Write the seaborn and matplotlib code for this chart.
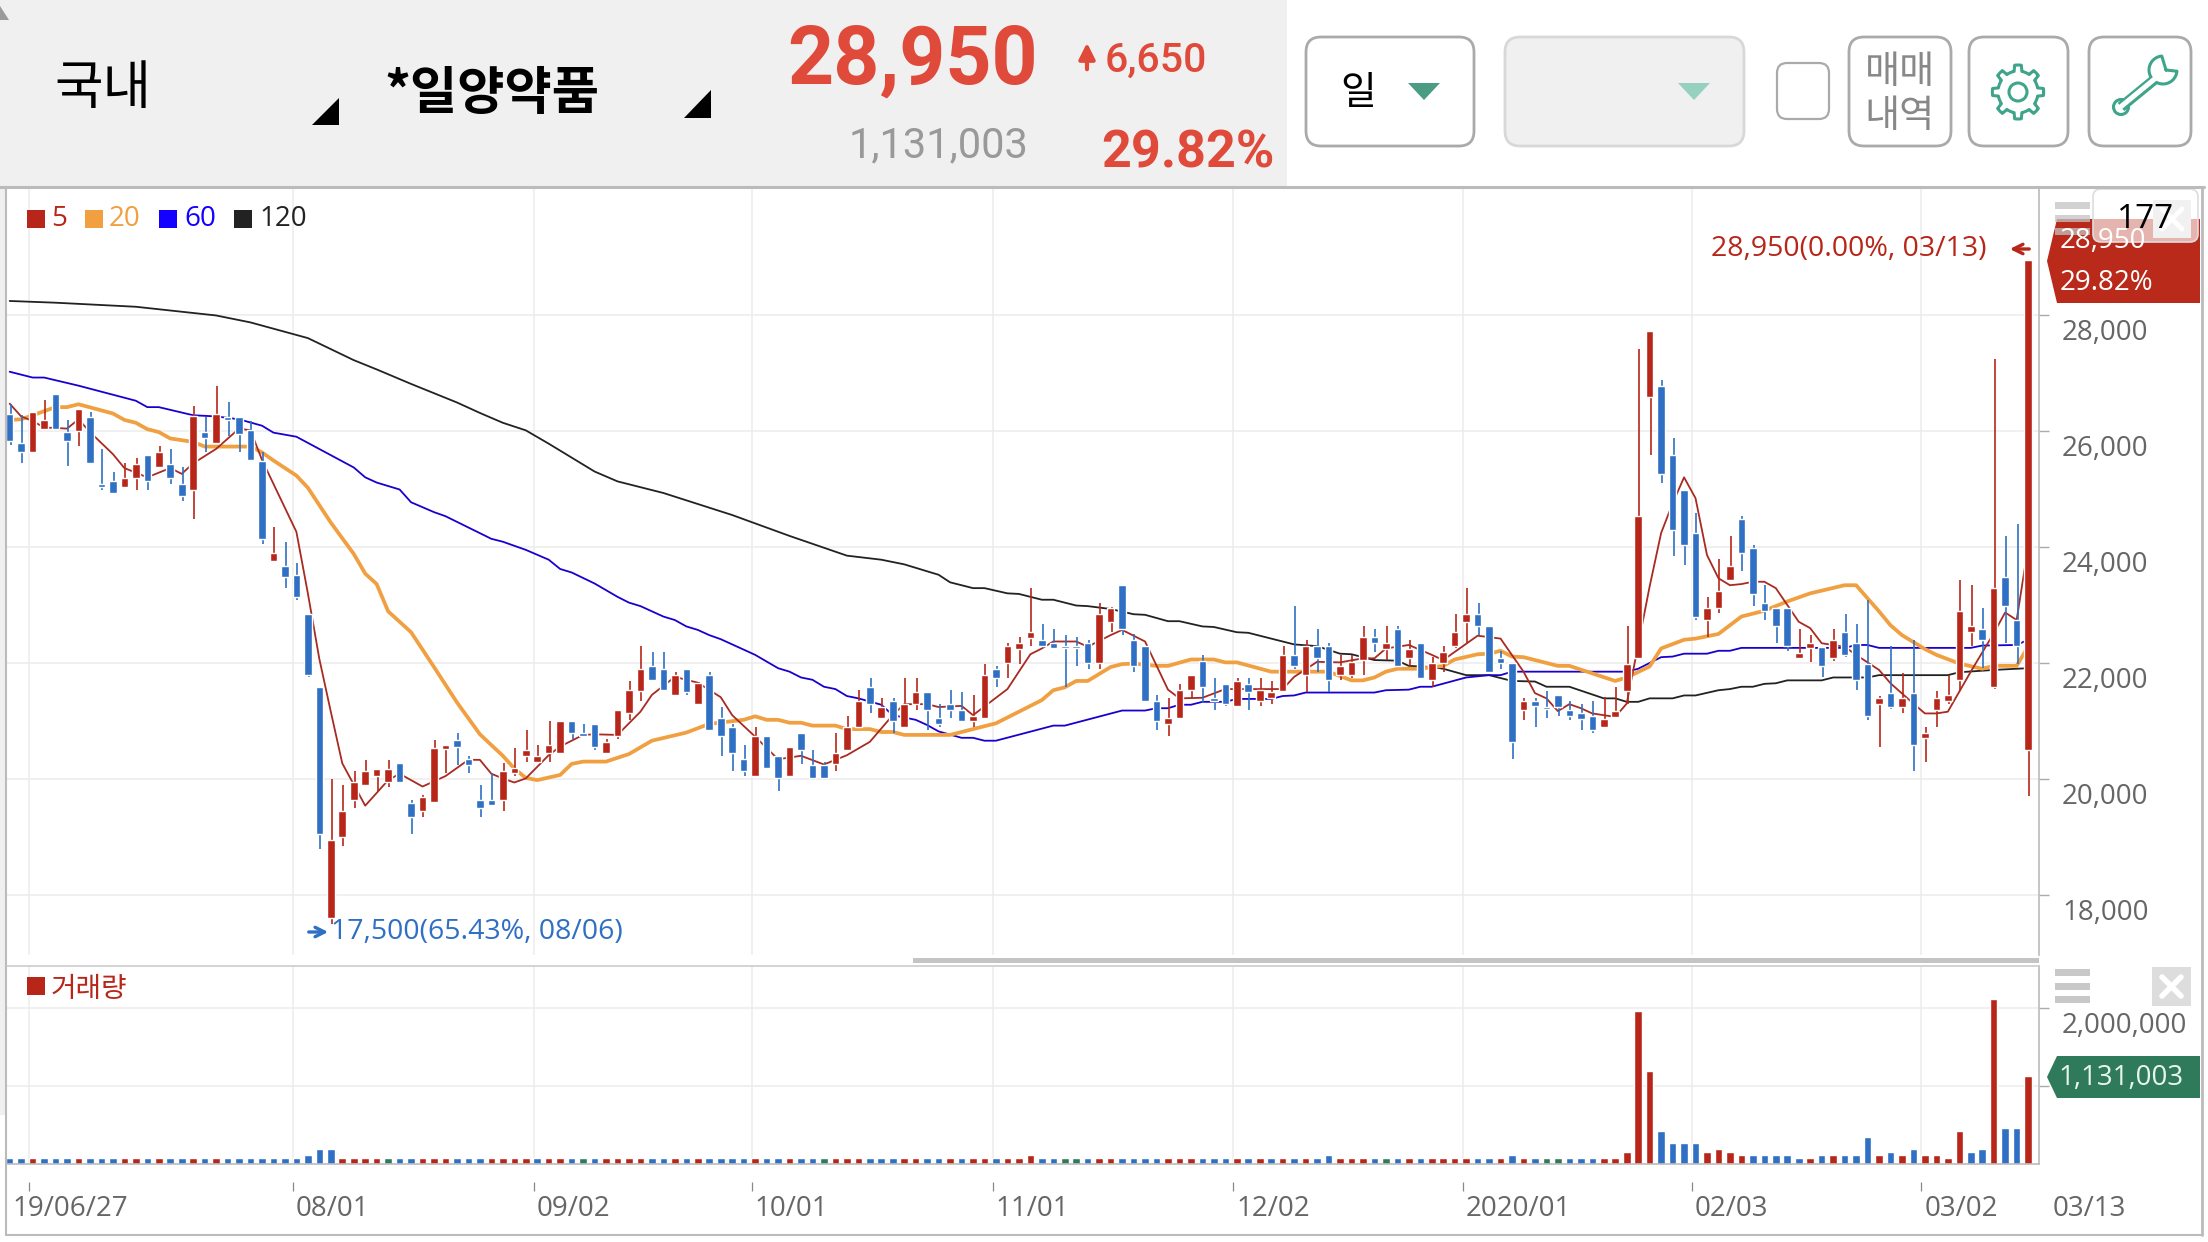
import numpy as np
import pandas as pd
import seaborn as sns
import matplotlib.pyplot as plt
from matplotlib.patches import Polygon, Rectangle, FancyBboxPatch, Circle

# candles, one value per trading day, left to right
candle_color = ("bbrrbbrbbb" "rrbrbbrbrb" "bbbrbbbbrr" "rrrrbbrrrb" "bbbrrrrrrb" "bbrrrrbbrb"
                "rbbbbrbbrb" "bbrrrbrbrr" "bbbbrrbrrr" "bbbbbrrbbb" "brrrbbbrbr" "rrbrbbrrrb"
                "rbrbrrrrbb" "bbrbbbbbbr" "rrrrbbbbrr" "rbbbbbrrbr" "bbbrbrbrrr" "rrbrbbr")
high = [26470, 26270, 26320, 26540, 26640, 26190, 26380, 26320, 25690, 25290,
        25440, 25530, 25580, 25740, 25690, 25370, 26430, 26240, 26780, 26490,
        26240, 26170, 25630, 24340, 24090, 23730, 22840, 21580, 20000, 19890,
        20130, 20330, 20180, 20330, 20280, 19630, 19730, 20680, 20580, 20790,
        20400, 19890, 20110, 20270, 20540, 20850, 20590, 21000, 21000, 21000,
        20950, 20950, 20690, 21190, 21690, 22290, 22190, 22190, 21840, 21900,
        21680, 21840, 21240, 20950, 20590, 20900, 20740, 20400, 20550, 20790,
        20500, 20290, 20790, 21090, 21540, 21740, 21400, 21400, 21740, 21740,
        21500, 21290, 21540, 21500, 21450, 21990, 21950, 22340, 22440, 23290,
        22680, 22590, 22480, 22440, 22400, 23030, 22970, 23350, 22500, 22290,
        21450, 21390, 21640, 21790, 22140, 21740, 21640, 21740, 21740, 21740,
        21690, 22290, 22980, 22400, 22580, 22340, 22140, 22140, 22640, 22580,
        22640, 22640, 22400, 22340, 22100, 22290, 22850, 23290, 23030, 22640,
        22200, 22000, 21390, 21390, 21510, 21450, 21340, 21290, 21340, 21410,
        21580, 22640, 27420, 27720, 26880, 25870, 24980, 24580, 23130, 23790,
        24190, 24530, 24030, 23340, 22940, 22940, 22580, 22480, 22280, 22580,
        22840, 22680, 23090, 21430, 22290, 21830, 22400, 20890, 21520, 21790,
        23430, 23340, 22940, 27240, 24190, 24400, 28950]
body_top = [26290, 25790, 26320, 26190, 26640, 25980, 26380, 26240, 25090, 25140,
            25190, 25430, 25580, 25640, 25430, 25090, 26250, 25980, 26290, 26240,
            26240, 26020, 25480, 23890, 23680, 23520, 22840, 21580, 18940, 19450,
            19940, 20130, 20180, 20180, 20280, 19590, 19690, 20540, 20580, 20680,
            20350, 19630, 19630, 20130, 20190, 20500, 20400, 20590, 21000, 21000,
            20790, 20950, 20640, 21190, 21540, 21900, 21950, 21900, 21790, 21900,
            21650, 21790, 21050, 20900, 20340, 20740, 20740, 20400, 20550, 20790,
            20240, 20240, 20450, 20900, 21350, 21590, 21240, 21350, 21290, 21500,
            21500, 21050, 21290, 21190, 21090, 21790, 21900, 22290, 22340, 22540,
            22400, 22350, 22290, 22290, 22340, 22850, 22940, 23350, 22400, 22290,
            21340, 21050, 21540, 21790, 22040, 21400, 21640, 21690, 21640, 21540,
            21500, 22140, 22140, 22290, 22290, 22290, 21950, 22010, 22440, 22440,
            22340, 22580, 22240, 22340, 22000, 22190, 22540, 22850, 22850, 22640,
            22090, 22000, 21340, 21340, 21240, 21450, 21190, 21130, 21090, 21040,
            21180, 21990, 24530, 27720, 26780, 25590, 24980, 24240, 22940, 23240,
            23680, 24480, 23980, 23030, 22940, 22940, 22180, 22340, 22280, 22390,
            22530, 22340, 21990, 21390, 21490, 21390, 21490, 20790, 21390, 21440,
            22890, 22630, 22580, 23290, 23480, 22740, 28950]
body_bot = [25830, 25640, 25640, 26030, 26040, 25830, 25990, 25440, 25040, 24930,
            25040, 25190, 25140, 25380, 25190, 24880, 24990, 25880, 25800, 26190,
            25940, 25490, 24140, 23750, 23490, 23140, 21790, 19060, 17600, 19000,
            19640, 19900, 20050, 19950, 19950, 19350, 19450, 19610, 20510, 20560,
            20240, 19500, 19560, 19640, 20110, 20400, 20300, 20450, 20450, 20800,
            20740, 20560, 20450, 20740, 21140, 21510, 21700, 21540, 21450, 21500,
            21290, 20850, 20740, 20450, 20140, 20050, 20190, 20010, 20050, 20500,
            20010, 20010, 20250, 20500, 20900, 21290, 21050, 21000, 20900, 21290,
            21190, 20950, 21190, 21000, 21000, 21050, 21740, 22000, 22240, 22430,
            22290, 22250, 22250, 22250, 22000, 22000, 22700, 22590, 21950, 21350,
            21000, 20950, 21050, 21540, 21590, 21340, 21290, 21250, 21500, 21350,
            21400, 21510, 21950, 21790, 22090, 21700, 21790, 21790, 22050, 22350,
            22240, 21950, 22090, 21740, 21700, 22000, 22290, 22700, 22640, 21850,
            22000, 20640, 21190, 21250, 21200, 21240, 21090, 21040, 20850, 20900,
            21070, 21510, 22080, 26590, 25250, 24300, 24030, 22800, 22740, 22950,
            23430, 23900, 23190, 22890, 22640, 22290, 22090, 22250, 21950, 22090,
            22140, 21700, 21090, 21290, 21240, 21240, 20590, 20700, 21190, 21350,
            21700, 22530, 22400, 21590, 22990, 22300, 20500]
low = [25760, 25440, 25640, 26030, 26040, 25390, 25740, 25440, 24990, 24930,
       25040, 24990, 24990, 25380, 25090, 24800, 24480, 25640, 25800, 25920,
       25640, 25490, 24050, 23750, 23300, 23090, 21750, 18800, 17500, 18850,
       19500, 19900, 19790, 19860, 19950, 19060, 19350, 19610, 20100, 20240,
       20110, 19350, 19560, 19450, 20060, 20300, 20300, 20300, 20450, 20690,
       20740, 20500, 20450, 20690, 21010, 21350, 21700, 21540, 21450, 21450,
       21290, 20850, 20400, 20140, 20050, 20050, 20190, 19800, 20050, 20250,
       20010, 20010, 20140, 20500, 20900, 21140, 21050, 20800, 20900, 21190,
       20850, 20900, 21050, 21000, 20900, 21050, 21590, 21740, 21990, 22290,
       22250, 22250, 21590, 21950, 21900, 21900, 22540, 22480, 21850, 21350,
       20850, 20740, 21050, 21390, 21310, 21190, 21250, 21250, 21190, 21250,
       21290, 21510, 21900, 21500, 21850, 21500, 21700, 21740, 21790, 22190,
       22050, 21950, 21950, 21740, 21590, 21850, 22260, 22340, 22480, 21850,
       21900, 20350, 21010, 20900, 21050, 21090, 21010, 20840, 20800, 20900,
       21070, 21290, 22080, 25590, 25100, 23840, 23690, 22740, 22450, 22860,
       23430, 23590, 22980, 22740, 22350, 22200, 22090, 22010, 21750, 22040,
       22100, 21530, 21010, 20560, 21200, 21140, 20140, 20300, 20900, 21300,
       21510, 22300, 21910, 21550, 22340, 21990, 19700]

# volume in thousands of shares, with the colour of each bar
volume_k = [80, 80, 80, 80, 80, 80, 80, 80, 80, 80, 80, 80, 80, 80, 80, 80, 80, 80, 80, 80,
            80, 80, 80, 80, 80, 80, 115, 192, 192, 80, 80, 80, 80, 80, 80, 80, 80, 80, 80, 80,
            80, 80, 80, 80, 80, 80, 80, 80, 80, 80, 80, 80, 80, 80, 80, 80, 80, 80, 80, 80,
            80, 80, 80, 80, 80, 80, 80, 80, 80, 80, 80, 80, 80, 80, 80, 80, 80, 80, 80, 80,
            80, 80, 80, 80, 80, 80, 80, 80, 80, 115, 80, 80, 80, 80, 80, 80, 80, 80, 80, 80,
            80, 80, 80, 80, 80, 80, 80, 80, 80, 80, 80, 80, 80, 80, 80, 115, 80, 80, 80, 80,
            80, 80, 80, 80, 80, 80, 80, 80, 80, 80, 80, 115, 80, 80, 80, 80, 80, 80, 80, 80,
            80, 154, 1960, 1190, 423, 269, 269, 269, 154, 192, 154, 115, 115, 115, 115, 115, 80, 80, 115, 115,
            115, 115, 346, 115, 154, 115, 192, 115, 115, 80, 423, 154, 192, 2115, 462, 462, 1131.003]
volume_color = ("bbrbbbrbbb" "rrbrbbrbrb" "bbbbbbbbbr" "rrrgbbrrrb" "bbrrrrbrrb" "gbrrrrbbrb"
                "rbbbbrbbrb" "bgrrrbbbrr" "bbrbrrbrrr" "bbggbrrbbb" "brrrbbbrbr" "brbrbbrrrb"
                "gbrbrrrrbb" "rbrbggbbbr" "rrrrbbbbrr" "rrbbbbbrbr" "bbbrbrbrrr" "rbbrbbr")

# moving averages, read at the candle number given in the matching list
ma5_day = [1, 2, 3, 4, 6, 7, 8, 10, 11, 13, 15, 16, 17, 19, 21, 22, 23, 26, 27, 28, 29, 30, 32, 34, 35, 37, 39, 41, 42, 43,
           44, 45, 46, 48, 49, 51, 52, 54, 56, 57, 59, 61, 63, 64, 66, 68, 70, 72, 74, 76, 78, 79, 81, 82, 84, 85, 88, 89, 90, 91,
           92, 94, 95, 97, 98, 100, 102, 103, 105, 107, 109, 112, 113, 115, 117, 119, 120, 121, 123, 125, 126, 129, 131, 133, 134, 135, 136, 137, 138, 139,
           141, 142, 144, 145, 146, 147, 148, 149, 150, 151, 152, 153, 154, 155, 157, 158, 159, 161, 162, 164, 165, 167, 168, 169, 170, 172, 174, 175, 176, 177]
ma5_val = [26470, 26250, 26170, 26060, 26040, 26200, 25980, 25600, 25360, 25200, 25360, 25260, 25440, 25690, 26040, 26010, 25500, 24260, 23200, 22070, 21160, 20270, 19540, 19980, 20090, 19870, 20050, 20330, 20330, 20090,
           20010, 19940, 20010, 20410, 20560, 20760, 20770, 20760, 21160, 21450, 21760, 21660, 21410, 21100, 20730, 20340, 20400, 20250, 20410, 20640, 21100, 21290, 21290, 21240, 21260, 21100, 21550, 21850, 22150, 22250,
           22370, 22370, 22280, 22480, 22570, 22370, 21540, 21390, 21400, 21550, 21550, 21550, 21760, 22020, 22010, 22080, 22080, 22250, 22310, 22140, 22050, 22470, 22420, 21850, 21480, 21390, 21170, 21290, 21220, 21130,
           21070, 21300, 23320, 24240, 24750, 25200, 24840, 23860, 23460, 23340, 23360, 23400, 23400, 23290, 22710, 22600, 22340, 22280, 22140, 21880, 21650, 21300, 21130, 21130, 21160, 21850, 22510, 22870, 22740, 24000]
ma20_day = [1, 2, 3, 5, 6, 7, 10, 11, 12, 13, 14, 15, 17, 18, 22, 23, 24, 26, 27, 29, 31, 32, 33, 34, 36, 38, 40, 42, 44, 45,
            46, 47, 49, 50, 51, 53, 55, 57, 60, 62, 65, 66, 67, 68, 69, 70, 71, 73, 74, 76, 77, 78, 79, 83, 85, 87, 89, 91, 92, 93,
            94, 95, 97, 98, 99, 101, 102, 104, 106, 107, 108, 111, 116, 118, 119, 120, 121, 122, 124, 126, 127, 129, 130, 131, 132, 133, 136, 137, 141, 142,
            144, 145, 147, 148, 150, 152, 154, 156, 158, 161, 162, 164, 165, 166, 168, 169, 171, 173, 174, 176, 177]
ma20_val = [26190, 26200, 26270, 26410, 26410, 26460, 26300, 26190, 26140, 26030, 25980, 25870, 25810, 25730, 25730, 25630, 25490, 25230, 25020, 24420, 23880, 23540, 23360, 22890, 22530, 21930, 21320, 20770, 20400, 20180,
            20020, 19980, 20070, 20260, 20300, 20300, 20430, 20660, 20800, 20950, 21020, 21080, 21020, 21020, 20970, 20970, 20920, 20920, 20860, 20860, 20810, 20810, 20760, 20760, 20860, 20960, 21160, 21360, 21530, 21580,
            21690, 21690, 21930, 21980, 21990, 21950, 21950, 22060, 22060, 22010, 22010, 21850, 21850, 21700, 21700, 21750, 21850, 21900, 21900, 21950, 22060, 22150, 22160, 22210, 22110, 22100, 21950, 21950, 21690, 21750,
            21940, 22250, 22400, 22420, 22500, 22800, 22900, 23060, 23200, 23340, 23340, 22890, 22650, 22480, 22240, 22140, 21990, 21900, 21950, 21950, 22280]
ma60_day = [1, 3, 4, 7, 12, 13, 14, 17, 19, 21, 23, 24, 26, 31, 32, 33, 35, 36, 38, 39, 43, 44, 46, 48, 49, 50, 52, 54, 55, 56,
            58, 59, 60, 61, 62, 63, 66, 68, 69, 70, 71, 72, 73, 74, 75, 77, 78, 80, 81, 82, 84, 85, 86, 87, 92, 93, 98, 100, 101, 102,
            103, 104, 105, 107, 108, 111, 112, 113, 114, 120, 121, 123, 124, 125, 128, 130, 131, 132, 142, 143, 145, 146, 147, 149, 150, 151, 152, 161, 162, 163,
            164, 172, 173, 176, 177]
ma60_val = [27020, 26920, 26920, 26780, 26520, 26410, 26410, 26270, 26250, 26200, 26090, 25970, 25900, 25370, 25200, 25110, 24990, 24770, 24600, 24530, 24140, 24090, 23950, 23780, 23620, 23560, 23370, 23140, 23040, 22980,
            22800, 22740, 22630, 22570, 22480, 22410, 22140, 21910, 21850, 21750, 21710, 21590, 21550, 21430, 21390, 21280, 21100, 21020, 20930, 20820, 20710, 20710, 20660, 20660, 20920, 20920, 21180, 21180, 21220, 21220,
            21280, 21280, 21330, 21330, 21380, 21380, 21430, 21440, 21490, 21490, 21530, 21540, 21590, 21590, 21750, 21790, 21790, 21850, 21850, 21900, 22100, 22110, 22160, 22160, 22210, 22210, 22260, 22260, 22310, 22310,
            22260, 22260, 22300, 22310, 22400]
ma120_day = [1, 5, 12, 19, 22, 27, 31, 33, 36, 38, 40, 42, 44, 46, 48, 52, 54, 58, 64, 69, 74, 77, 79, 82, 83, 85, 86, 88, 89, 91,
             92, 94, 95, 97, 99, 100, 102, 103, 105, 106, 108, 109, 111, 113, 115, 117, 118, 120, 122, 123, 125, 126, 128, 130, 132, 134, 135, 137, 140, 141,
             142, 143, 144, 146, 147, 148, 150, 151, 152, 153, 154, 155, 156, 159, 160, 163, 164, 170, 171, 174, 177]
ma120_val = [28240, 28210, 28140, 27990, 27870, 27600, 27220, 27060, 26810, 26650, 26490, 26310, 26140, 26010, 25780, 25300, 25130, 24930, 24550, 24190, 23850, 23780, 23700, 23520, 23390, 23290, 23290, 23200, 23190, 23090,
             23090, 22990, 22980, 22930, 22840, 22830, 22720, 22720, 22630, 22620, 22530, 22520, 22420, 22320, 22290, 22160, 22150, 22050, 22040, 21950, 21930, 21900, 21790, 21790, 21690, 21680, 21590, 21590, 21390, 21390,
             21330, 21330, 21390, 21390, 21440, 21440, 21530, 21550, 21590, 21590, 21640, 21650, 21700, 21700, 21750, 21750, 21790, 21790, 21840, 21880, 21910]

price_ticks = [28000, 26000, 24000, 22000, 20000, 18000]
price_labels = ['28,000', '26,000', '24,000', '22,000', '20,000', '18,000']
date_days = [3, 26, 47, 66, 87, 108, 128, 148, 168]
date_labels = ['19/06/27', '08/01', '09/02', '10/01', '11/01', '12/02', '2020/01', '02/03', '03/02']
ma_names = ['5', '20', '60', '120']

RED = '#b72619'
BLUE = '#2f6fc4'
GREEN = '#2f7a5a'
ORANGE = '#f0a040'
INDIGO = '#1a00d0'
TEAL = '#3fa58a'
ma_colors = [RED, ORANGE, '#1400ff', '#222222']
GRID = '#ececec'
EDGE = '#bbbbbb'
TICK_TEXT = '#666666'

sns.set_theme(style='white')
plt.rcParams['font.family'] = ['Open Sans', 'Noto Sans CJK KR', 'DejaVu Sans']
KR = ['Noto Sans CJK KR', 'DejaVu Sans']

W, H = 2208, 1242
fig = plt.figure(figsize=(W / 100, H / 100), dpi=100, facecolor='white')


def px_axes(left, top, right, bottom):
    return fig.add_axes([left / W, 1 - bottom / H, (right - left) / W, (bottom - top) / H])


day = np.arange(1, 178)
XLIM = (0.765, 177.95)

# price pane
ax = px_axes(7, 189, 2039, 955)
ax.set_xlim(*XLIM)
ax.set_ylim(16966, 30170)
for d in date_days:
    ax.axvline(d - 0.3, color=GRID, lw=1.1, zorder=0)
for t in price_ticks:
    ax.axhline(t, color=GRID, lw=1.1, zorder=0)
sns.lineplot(x=ma120_day, y=ma120_val, color='#222222', lw=1.3, ax=ax, estimator=None, sort=False, zorder=1)
sns.lineplot(x=ma60_day, y=ma60_val, color=INDIGO, lw=1.3, ax=ax, estimator=None, sort=False, zorder=1)
sns.lineplot(x=ma20_day, y=ma20_val, color=ORANGE, lw=2.7, ax=ax, estimator=None, sort=False, zorder=1)
sns.lineplot(x=ma5_day, y=ma5_val, color='#a82a20', lw=1.3, ax=ax, estimator=None, sort=False, zorder=2)
colors = [RED if c == 'r' else BLUE for c in candle_color]
ax.vlines(day + 0.08, low, high, colors=colors, lw=1.2, zorder=3)
ax.bar(day, np.array(body_top) - np.array(body_bot), bottom=body_bot, width=0.66, color=colors, zorder=4)
ax.set_xlim(*XLIM)
ax.set_ylim(16966, 30170)
ax.set_xticks([])
ax.set_xlabel('')
ax.yaxis.tick_right()
ax.set_yticks(price_ticks, [''] * len(price_ticks))
ax.tick_params(axis='y', length=7.2, width=1, color='#aaaaaa', right=True)
for t, lab in zip(price_ticks, price_labels):
    ax.annotate(lab, xy=(1, t), xycoords=ax.get_yaxis_transform(), xytext=(23, -18),
                textcoords='offset pixels', va='center', color=TICK_TEXT, fontsize=20, annotation_clip=False)
for s in ['top', 'left', 'bottom']:
    ax.spines[s].set_visible(False)
ax.spines['right'].set_color(EDGE)
ax.spines['right'].set_linewidth(1.2)

# volume pane
vax = px_axes(7, 966, 2039, 1164)
volume = pd.DataFrame({'day': day, 'vol': np.array(volume_k) * 1000, 'c': list(volume_color)})
vax.set_ylim(0, 2538000)
for d in date_days:
    vax.axvline(d - 0.3, color=GRID, lw=1.1, zorder=0)
for t in [1000000, 2000000]:
    vax.axhline(t, color=GRID, lw=1.1, zorder=0)
sns.barplot(data=volume, x='day', y='vol', hue='c', palette={'r': RED, 'b': BLUE, 'g': GREEN},
            dodge=False, native_scale=True, width=0.66, saturation=1, legend=False, errorbar=None, ax=vax, zorder=2)
vax.set_xlim(*XLIM)
vax.set_ylim(0, 2538000)
vax.set_xlabel('')
vax.set_ylabel('')
vax.set_xticks([])
vax.yaxis.tick_right()
vax.set_yticks([1000000, 2000000], ['', ''])
vax.tick_params(axis='y', length=7.2, width=1, color='#aaaaaa', right=True)
vax.annotate('2,000,000', xy=(1, 2000000), xycoords=vax.get_yaxis_transform(), xytext=(23, -18),
             textcoords='offset pixels', va='center', color=TICK_TEXT, fontsize=20, annotation_clip=False)
for s in ['top', 'left']:
    vax.spines[s].set_visible(False)
for s in ['right', 'bottom']:
    vax.spines[s].set_color(EDGE)
    vax.spines[s].set_linewidth(1.2)
tick_tr = vax.get_xaxis_transform()
vax.vlines(np.array(date_days) - 0.3, -27 / 198, -18 / 198, transform=tick_tr, colors='#888888', lw=0.9, clip_on=False)
for i, (d, lab) in enumerate(zip(date_days, date_labels)):
    dx = -17 if i == 0 else 3
    vax.annotate(lab, xy=(d - 0.3, 0), xycoords=tick_tr, xytext=(dx, -45), textcoords='offset pixels',
                 va='center', ha='left', color=TICK_TEXT, fontsize=20, annotation_clip=False)
vax.annotate('03/13', xy=(179.1, 0), xycoords=tick_tr, xytext=(0, -45), textcoords='offset pixels',
             va='center', ha='left', color=TICK_TEXT, fontsize=20, annotation_clip=False)

# page chrome, in pixel coordinates
ov = fig.add_axes([0, 0, 1, 1], zorder=10)
ov.set_xlim(0, W)
ov.set_ylim(H, 0)
ov.axis('off')
ov.patch.set_alpha(0)


def box(x0, y0, x1, y1, fc='white', ec='#aaaaaa', lw=2, r=15, **kw):
    p = FancyBboxPatch((x0, y0), x1 - x0, y1 - y0, boxstyle=f'round,pad=0,rounding_size={r}',
                       fc=fc, ec=ec, lw=lw, **kw)
    ov.add_patch(p)


def txt(x, y, s, **kw):
    kw.setdefault('va', 'center')
    return ov.text(x, y, s, **kw)


ov.add_patch(Rectangle((0, 0), 1287, 186, fc='#f0f0f0', ec='none'))
ov.add_patch(Polygon([(0, 6), (9, 20), (0, 20)], fc='#9a9a9a', ec='none'))
ov.add_patch(Rectangle((0, 187), 6, 928, fc='#f0f0f0', ec='none'))
ov.plot([6, 6], [187, 1235], color=EDGE, lw=1.5)
ov.plot([2202, 2202], [187, 1235], color=EDGE, lw=2)
ov.plot([6, 2202], [1235, 1235], color=EDGE, lw=1.5)
ov.plot([0, 2204], [187, 187], color=EDGE, lw=2.2)
ov.add_patch(Rectangle((913, 958), 1126, 5, fc='#c4c4c4', ec='none'))
ov.plot([7, 2039], [966, 966], color='#cccccc', lw=1.2)

txt(54, 88, '국내', family=KR, fontsize=38, color='black')
ov.add_patch(Polygon([(312, 125), (339, 98), (339, 125)], fc='black', ec='none'))
txt(384, 94, '*일양약품', family=KR, fontsize=37, fontweight='bold', color='black')
ov.add_patch(Polygon([(684, 118), (711, 90), (711, 118)], fc='black', ec='none'))
HDR = '#df4a3a'
txt(1038, 62, '28,950', family='Roboto', fontsize=58, fontweight='bold', color=HDR, ha='right')
ov.annotate('', xy=(1087, 40), xytext=(1087, 72), arrowprops=dict(arrowstyle='-|>', color=HDR, lw=3, mutation_scale=24))
txt(1105, 61, '6,650', family='Roboto', fontsize=29.5, fontweight='medium', color=HDR)
txt(1028, 146, '1,131,003', family='Roboto', fontsize=30, color='#999999', ha='right')
txt(1275, 154, '29.82%', family='Roboto', fontsize=37.5, fontweight='bold', color=HDR, ha='right')

box(1306, 37, 1474, 146)
txt(1358, 93, '일', family=KR, fontsize=28, color='black', ha='center')
ov.add_patch(Polygon([(1408, 83), (1440, 83), (1424, 100)], fc='#4a9d82', ec='none'))
box(1505, 37, 1744, 146, fc='#f0f0f0', ec='#d8d8d8')
ov.add_patch(Polygon([(1678, 83), (1710, 83), (1694, 100)], fc='#96d0bf', ec='none'))
box(1777, 63, 1829, 119, r=10, lw=1.6)
box(1849, 37, 1951, 146)
txt(1900, 72, '매매', family=KR, fontsize=27.5, color='#888888', ha='center')
txt(1900, 116, '내역', family=KR, fontsize=27.5, color='#888888', ha='center')
box(1969, 37, 2068, 146)
box(2089, 37, 2191, 146)

# gear icon
gx, gy = 2018, 92
ang = np.deg2rad(np.arange(0, 360.1, 360 / 96))
rad = 21 + 6 * (np.cos(ang * 8) > 0.1)
ov.plot(gx + rad * np.cos(ang) * 0.95, gy + rad * np.sin(ang), color=TEAL, lw=2.2)
ov.add_patch(Circle((gx, gy), 9, fc='none', ec=TEAL, lw=2.2))

# wrench icon
a = np.deg2rad(np.linspace(5, 265, 30))
jaw_x = np.r_[2166, 2163 + 14 * np.cos(a), 2166]
jaw_y = np.r_[70, 70 + 14 * np.sin(a), 70]
ov.plot(jaw_x, jaw_y, color=TEAL, lw=2.2)
ov.plot([2121, 2154], [107, 80], color=TEAL, lw=7.5, solid_capstyle='butt')
ov.plot([2118, 2157], [109, 77], color='white', lw=3.6, solid_capstyle='butt')
ov.add_patch(Circle((2121, 107), 7.5, fc='white', ec=TEAL, lw=2.2))

# legend row
legend_sq = [27, 85, 159, 234]
legend_tx = [51, 109, 184, 259]
for name, col, sx, tx in zip(ma_names, ma_colors, legend_sq, legend_tx):
    ov.add_patch(Rectangle((sx, 210), 18, 18, fc=col, ec='none'))
    txt(tx, 219, name, color=col, fontsize=20)
ov.add_patch(Rectangle((27, 977), 18, 18, fc=RED, ec='none'))
txt(51, 989, '거래량', family=KR, color=RED, fontsize=20)

# extreme labels
txt(1711, 249, '28,950(0.00%, 03/13)', color=RED, fontsize=20.5)
ov.annotate('', xy=(2007, 249), xytext=(2032, 249), arrowprops=dict(arrowstyle='->', color=RED, lw=2.4, mutation_scale=17))
ov.annotate('', xy=(331, 932), xytext=(306, 932), arrowprops=dict(arrowstyle='->', color=BLUE, lw=2.4, mutation_scale=17))
txt(331, 932, '17,500(65.43%, 08/06)', color=BLUE, fontsize=20.5)

# price tag and pane icons
ov.add_patch(Polygon([(2047, 261), (2057, 219), (2200, 219), (2200, 303), (2057, 303)], fc='#b92a1b', ec='none'))
txt(2060, 241, '28,950', color='white', fontsize=20)
txt(2060, 283, '29.82%', color='white', fontsize=20)
for y0 in (202, 215, 228):
    ov.add_patch(Rectangle((2055, y0), 35, 7, fc='#c4c4c4', ec='none', alpha=0.75))
ov.add_patch(Rectangle((2153, 200), 38, 38, fc='#d8d8d8', ec='none'))
ov.plot([2162, 2182], [209, 229], color='white', lw=3.5)
ov.plot([2182, 2162], [209, 229], color='white', lw=3.5)
box(2093, 189, 2198, 242, fc=(1, 1, 1, 0.65), ec='#dddddd', r=8, lw=1.2)
txt(2146, 219, '177', color='black', fontsize=24, ha='center')

ov.add_patch(Polygon([(2047, 1077), (2057, 1056), (2200, 1056), (2200, 1098), (2057, 1098)], fc=GREEN, ec='none'))
txt(2058, 1078, '1,131,003', color='#e8f5ee', fontsize=20)
for y0 in (969, 983, 996):
    ov.add_patch(Rectangle((2055, y0), 35, 7, fc='#c8c8c8', ec='none'))
ov.add_patch(Rectangle((2152, 967), 39, 39, fc='#dddddd', ec='none'))
ov.plot([2162, 2181], [977, 996], color='white', lw=4)
ov.plot([2181, 2162], [977, 996], color='white', lw=4)

fig.savefig('out.png', dpi=100)
plt.close(fig)
